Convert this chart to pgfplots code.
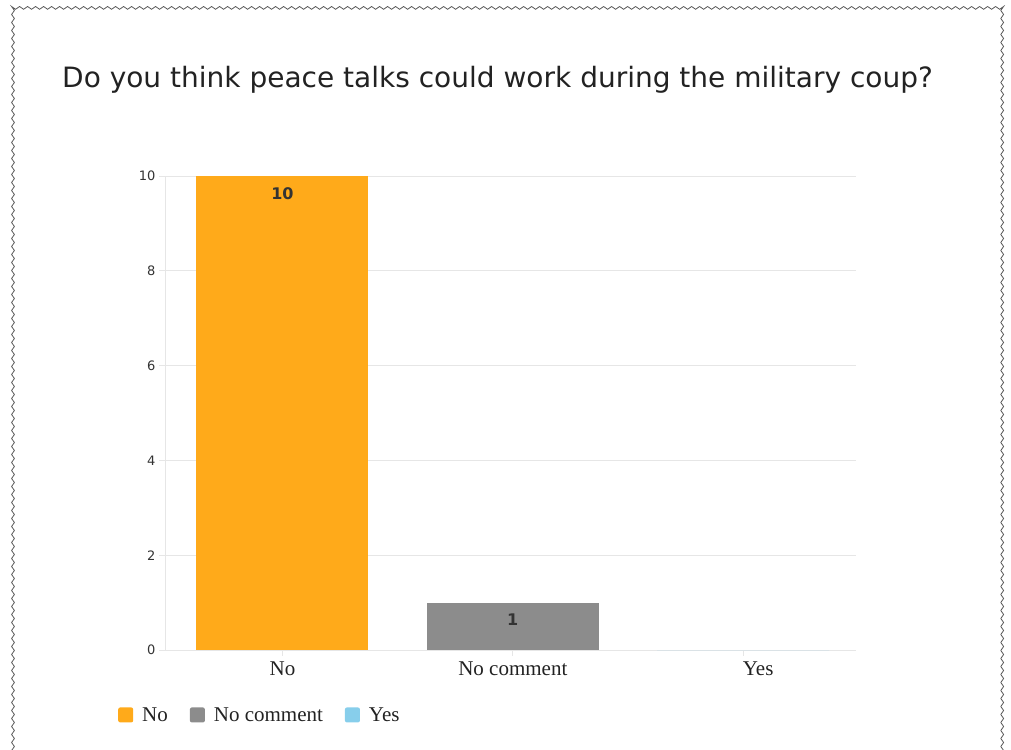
\documentclass[border=0pt]{standalone}
\usepackage{fontspec}
\usepackage{pgfplots}
\pgfplotsset{compat=1.18}
\usetikzlibrary{decorations.pathmorphing}
\setmainfont{Liberation Serif}
\newfontfamily\titlefont{DejaVu Sans}
\definecolor{barorange}{HTML}{FFAA1A}
\definecolor{bargrey}{HTML}{8C8C8C}
\definecolor{barblue}{HTML}{87CEEB}
\definecolor{gridgrey}{HTML}{E6E6E6}
\definecolor{txt}{HTML}{222222}
\begin{document}
\begin{tikzpicture}[x=1pt,y=1pt]
\useasboundingbox (0,0) rectangle (1011,749);
\begin{scope}
\clip (0,0) rectangle (1011,749);
\draw[color=black!65, line width=0.8pt, decorate, decoration={snake, amplitude=1.4pt, segment length=8pt}] (13,-20) -- (13,741) -- (1006,741) -- (1006,-20);
\end{scope}
\node[anchor=base west, inner sep=0pt, font=\titlefont\fontsize{28}{34}\selectfont, text=txt] at (62,661) {Do you think peace talks could work during the military coup?};
\begin{axis}[
  /pgf/number format/assume math mode=true,
  at={(165pt,99pt)}, anchor=south west,
  width=691pt, height=474pt, scale only axis,
  xmin=-0.51, xmax=2.49, ymin=0, ymax=10,
  ybar, bar width=172pt, bar shift=0pt,
  xtick={0,1,2}, xticklabels={No, No comment, \hspace*{30pt}Yes},
  ytick={0,2,4,6,8,10},
  ymajorgrids, grid style={gridgrey, line width=0.8pt},
  axis x line*=bottom, axis y line*=left,
  axis line style={gridgrey, line width=0.8pt},
  tick style={gridgrey, line width=0.8pt},
  tick align=outside, major tick length=6pt,
  x tick label style={font=\fontsize{21}{24}\selectfont, text=txt, yshift=-2pt},
  y tick label style={font=\titlefont\fontsize{13}{15}\selectfont, text=black!80},
  legend style={draw=none, fill=none, at={(-0.068,-0.137)}, anchor=west, inner xsep=0pt,
    font=\fontsize{21}{24}\selectfont, text=txt,
    /tikz/every even column/.append style={column sep=20pt}},
  legend columns=3,
]
\addplot[fill=barorange, draw=none,
  nodes near coords, nodes near coords align={below},
  every node near coord/.append style={font=\titlefont\bfseries\fontsize{16}{19}\selectfont, text=black!80, yshift=-8pt},
  legend image code/.code={\fill[barorange, rounded corners=2pt] (0pt,-7.5pt) rectangle (15pt,7.5pt); \path (22pt,0pt);}]
  coordinates {(0,10)};
\addlegendentry{No}
\addplot[fill=bargrey, draw=none,
  nodes near coords, nodes near coords align={below},
  every node near coord/.append style={font=\titlefont\bfseries\fontsize{16}{19}\selectfont, text=black!80, yshift=-8pt},
  legend image code/.code={\fill[bargrey, rounded corners=2pt] (0pt,-7.5pt) rectangle (15pt,7.5pt); \path (22pt,0pt);}]
  coordinates {(1,1)};
\addlegendentry{No comment}
\addplot[fill=barblue, draw=none,
  legend image code/.code={\fill[barblue, rounded corners=2pt] (0pt,-7.5pt) rectangle (15pt,7.5pt); \path (22pt,0pt);}]
  coordinates {(2,0)};
\addlegendentry{Yes}
\end{axis}
\end{tikzpicture}
\end{document}
